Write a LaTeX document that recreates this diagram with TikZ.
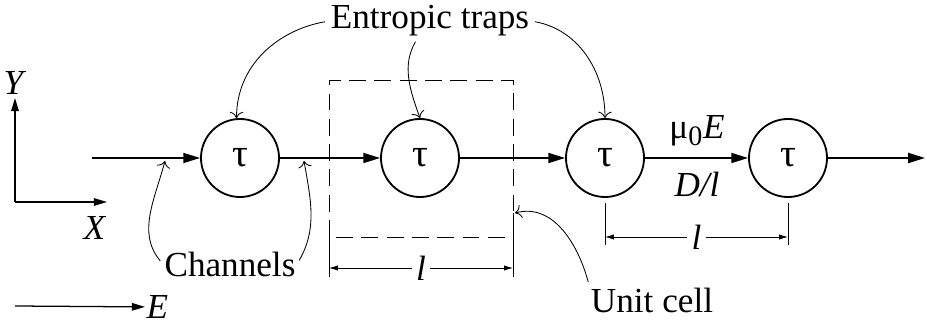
\documentclass[tikz,border=0pt]{standalone}
\usepackage{fontspec}
\setmainfont{Liberation Serif}
\usetikzlibrary{arrows.meta}

\begin{document}
\begin{tikzpicture}[
    x=0.025cm, y=-0.025cm,
    >={Triangle[length=4.2mm, width=2.5mm]},
    trap/.style={draw, circle, line width=1.3pt, minimum size=1.95cm,
                 inner sep=0pt, font=\fontsize{28}{32}\selectfont},
    flow/.style={->, line width=1.3pt},
    axis/.style={-{Triangle[length=3.3mm, width=1.9mm]}, line width=0.9pt},
    lbl/.style={font=\fontsize{25}{29}\selectfont, inner sep=1pt},
    pointer/.style={-{To[length=1.6mm]}, line width=0.6pt, shorten <=3pt},
    dim/.style={{Latex[length=2.2mm, width=1.3mm]}-{Latex[length=2.2mm, width=1.3mm]},
                line width=0.6pt},
    tick/.style={line width=0.6pt},
    cell/.style={dash pattern=on 12pt off 6pt, line width=0.6pt},
]
\useasboundingbox (0,0) rectangle (927,326);

% ---- Traps along the channel ----
\node[trap] (t1) at (240,158) {τ};
\node[trap] (t2) at (420,158) {τ};
\node[trap] (t3) at (605,158) {τ};
\node[trap] (t4) at (788,158) {τ};
\coordinate (in)  at (92,158);
\coordinate (out) at (925,158);

% ---- Channels between traps ----
\draw[flow] (in) -- (t1);
\draw[flow] (t1) -- (t2);
\draw[flow] (t2) -- (t3);
\draw[flow] (t3) -- (t4);
\draw[flow] (t4) -- (out);
\node[lbl] (mu) at (697,131) {μ\textsubscript{\fontsize{20}{24}\selectfont 0}\textit{E}};
\node[lbl] (dl) at (697,184) {\textit{D/l}};

% ---- Unit cell ----
\draw[cell] (329,237) rectangle (513,80);
\draw[tick] (329,237) -- (329,277);
\draw[tick] (513,213) -- (513,277);
\coordinate (ca) at (329,268);
\coordinate (cb) at (513,268);
\draw[dim] (ca) -- node[lbl, fill=white, inner sep=3pt]{\textit{l}} (cb);

% ---- Trap spacing ----
\draw[tick] (605,203) -- (605,245);
\draw[tick] (788,203) -- (788,245);
\coordinate (sa) at (605,237);
\coordinate (sb) at (788,237);
\draw[dim] (sa) -- node[lbl, fill=white, inner sep=3pt]{\textit{l}} (sb);

% ---- Axes and field ----
\coordinate (o)    at (15,202);
\coordinate (ytip) at (15,98);
\coordinate (xtip) at (107,202);
\draw[axis] (o) -- (ytip);
\draw[axis] (o) -- (xtip);
\node[lbl] (ylab) at (15,83) {\textit{Y}};
\node[lbl] (xlab) at (95,228) {\textit{X}};
\coordinate (e0) at (15,306);
\node[lbl, anchor=west] (elab) at (145,307) {\textit{E}};
\draw[axis] (e0) -- (elab);

% ---- Annotations ----
\node[lbl] (traps) at (430,21) {Entropic traps};
\draw[pointer] (traps.west) to[out=190, in=90] (t1.95);
\draw[pointer] (traps.234) to[out=240, in=110] (t2.north);
\draw[pointer] (traps.east) to[out=-10, in=90] (t3.north);

\node[lbl] (chan) at (230,264) {Channels};
\coordinate (ch1) at (165,161);
\coordinate (ch2) at (304,161);
\draw[pointer] (chan.west) to[out=130, in=-105] (ch1);
\draw[pointer] (chan.east) to[out=60, in=-80] (ch2);

\node[lbl] (unit) at (652,300) {Unit cell};
\coordinate (cellpt) at (515,213);
\draw[pointer] (unit.north west) to[out=105, in=15] (cellpt);
\end{tikzpicture}
\end{document}
